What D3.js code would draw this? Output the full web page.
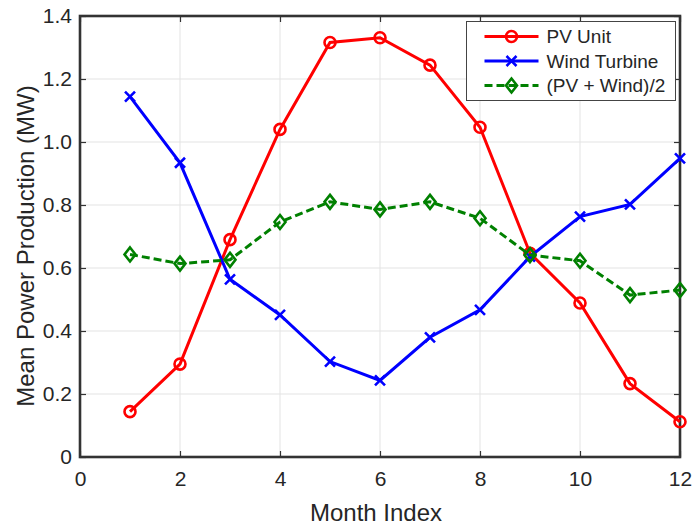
<!DOCTYPE html>
<html>
<head>
<meta charset="utf-8">
<script src="https://cdn.jsdelivr.net/npm/d3@7"></script>
<style>
  body { margin: 0; background: #fff; }
  svg { display: block; font-family: "Liberation Sans", Arial, sans-serif; }
</style>
</head>
<body>
<svg id="chart" width="695" height="528"></svg>
<script>
// data
const months = [1, 2, 3, 4, 5, 6, 7, 8, 9, 10, 11, 12];
const pvUnit = [0.144, 0.295, 0.690, 1.040, 1.316, 1.331, 1.244, 1.047, 0.647, 0.489, 0.233, 0.112];
const windTurbine = [1.144, 0.934, 0.564, 0.451, 0.303, 0.243, 0.380, 0.467, 0.636, 0.763, 0.802, 0.948];
const average = [0.643, 0.614, 0.626, 0.746, 0.810, 0.786, 0.810, 0.758, 0.641, 0.623, 0.514, 0.530];
const xTicks = [0, 2, 4, 6, 8, 10, 12];
const yTicks = [0, 0.2, 0.4, 0.6, 0.8, 1.0, 1.2, 1.4];

const svg = d3.select('#chart');
const margin = { left: 80, right: 15, top: 16, bottom: 71 };
const width = 695 - margin.left - margin.right;
const height = 528 - margin.top - margin.bottom;

const x = d3.scaleLinear().domain([0, 12]).range([0, width]);
const y = d3.scaleLinear().domain([0, 1.4]).range([height, 0]);

const g = svg.append('g')
  .attr('transform', `translate(${margin.left},${margin.top})`);

// grid
g.append('g').selectAll('line')
  .data(xTicks.slice(1, -1))
  .enter().append('line')
  .attr('x1', d => x(d)).attr('x2', d => x(d))
  .attr('y1', 0).attr('y2', height)
  .attr('stroke', '#e3e3e3').attr('stroke-width', 1);

g.append('g').selectAll('line')
  .data(yTicks.slice(1, -1))
  .enter().append('line')
  .attr('x1', 0).attr('x2', width)
  .attr('y1', d => y(d)).attr('y2', d => y(d))
  .attr('stroke', '#e3e3e3').attr('stroke-width', 1);

// axes with inward ticks on all four sides
const tickFmt = d => d === 0 ? '0' : d3.format('.1f')(d);

const xAxis = g.append('g')
  .attr('transform', `translate(0,${height})`)
  .call(d3.axisBottom(x).tickValues(xTicks).tickSizeInner(-6).tickSizeOuter(0).tickPadding(14));
const yAxis = g.append('g')
  .call(d3.axisLeft(y).tickValues(yTicks).tickFormat(tickFmt).tickSizeInner(-6).tickSizeOuter(0).tickPadding(8));
const xTop = g.append('g')
  .call(d3.axisTop(x).tickValues(xTicks).tickSizeInner(-6).tickSizeOuter(0).tickFormat(''));
const yRight = g.append('g')
  .attr('transform', `translate(${width},0)`)
  .call(d3.axisRight(y).tickValues(yTicks).tickSizeInner(-6).tickSizeOuter(0).tickFormat(''));

[xAxis, yAxis, xTop, yRight].forEach(a => {
  a.select('.domain').remove();
  a.selectAll('.tick line').attr('stroke', '#333').attr('stroke-width', 1.2);
  a.selectAll('.tick text')
    .attr('fill', '#262626')
    .style('font-size', '21px')
    .style('font-family', '"Liberation Sans", Arial, sans-serif');
});

g.append('rect')
  .attr('x', 0).attr('y', 0)
  .attr('width', width).attr('height', height)
  .attr('fill', 'none')
  .attr('stroke', '#333').attr('stroke-width', 2.6);

// series
const series = [
  { name: 'PV Unit', values: pvUnit, color: '#ff0000', dash: null, marker: 'circle' },
  { name: 'Wind Turbine', values: windTurbine, color: '#0000ff', dash: null, marker: 'cross' },
  { name: '(PV + Wind)/2', values: average, color: '#008000', dash: '8,4', marker: 'diamond' }
];

const line = d3.line()
  .x((d, i) => x(months[i]))
  .y(d => y(d));

function drawMarker(sel, type, color) {
  if (type === 'circle') {
    sel.append('circle').attr('r', 5.5)
      .attr('fill', 'none').attr('stroke', color).attr('stroke-width', 2.6);
  } else if (type === 'cross') {
    sel.append('path').attr('d', 'M-5,-5L5,5M-5,5L5,-5')
      .attr('fill', 'none').attr('stroke', color).attr('stroke-width', 2.6);
  } else {
    sel.append('path').attr('d', 'M0,-7L5.5,0L0,7L-5.5,0Z')
      .attr('fill', 'none').attr('stroke', color).attr('stroke-width', 2.6);
  }
}

series.forEach(s => {
  g.append('path')
    .datum(s.values)
    .attr('d', line)
    .attr('fill', 'none')
    .attr('stroke', s.color)
    .attr('stroke-width', 3)
    .attr('stroke-dasharray', s.dash);

  g.append('g').selectAll('g')
    .data(s.values)
    .enter().append('g')
    .attr('transform', (d, i) => `translate(${x(months[i])},${y(d)})`)
    .each(function () { drawMarker(d3.select(this), s.marker, s.color); });
});

// legend
const legend = svg.append('g').attr('transform', 'translate(466.5,21.5)');
legend.append('rect')
  .attr('width', 209).attr('height', 79)
  .attr('fill', '#fff')
  .attr('stroke', '#444').attr('stroke-width', 1);

series.forEach((s, i) => {
  const row = legend.append('g').attr('transform', `translate(0,${15 + i * 24.5})`);
  row.append('line')
    .attr('x1', 18).attr('x2', 72)
    .attr('stroke', s.color).attr('stroke-width', 3)
    .attr('stroke-dasharray', s.dash);
  const m = row.append('g').attr('transform', 'translate(45,0)');
  drawMarker(m, s.marker, s.color);
  row.append('text')
    .attr('x', 80).attr('y', 0)
    .attr('dy', '0.35em')
    .attr('fill', '#262626')
    .style('font-size', '19px')
    .text(s.name);
});

// axis titles
svg.append('text')
  .attr('x', 376).attr('y', 521)
  .attr('text-anchor', 'middle')
  .attr('fill', '#262626')
  .style('font-size', '24px')
  .text('Month Index');

svg.append('text')
  .attr('transform', 'translate(34,246) rotate(-90)')
  .attr('text-anchor', 'middle')
  .attr('fill', '#262626')
  .style('font-size', '24px')
  .text('Mean Power Production (MW)');
</script>
</body>
</html>
